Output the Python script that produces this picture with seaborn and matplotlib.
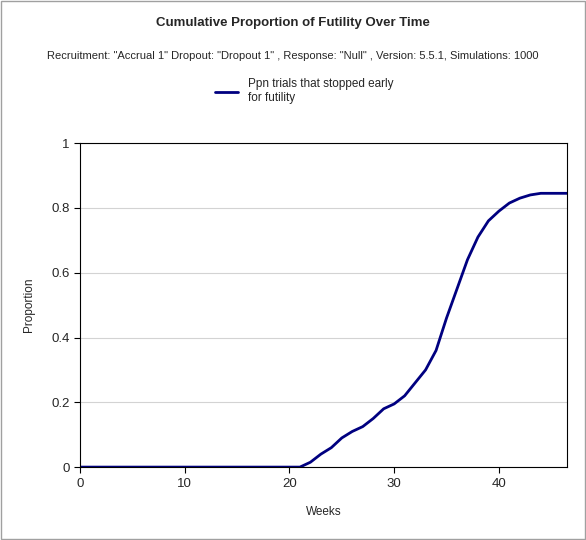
import numpy as np
import pandas as pd
import seaborn as sns
import matplotlib.pyplot as plt

weeks = [0, 5, 10, 15, 19, 21, 22, 23, 24, 25, 26, 27, 28, 29, 30, 31, 32, 33, 34, 35,
         36, 37, 38, 39, 40, 41, 42, 43, 44, 45, 46.5]
proportion = [0, 0, 0, 0, 0, 0, 0.015, 0.04, 0.06, 0.09, 0.11, 0.125, 0.15, 0.18, 0.195,
              0.22, 0.26, 0.30, 0.36, 0.46, 0.55, 0.64, 0.71, 0.76, 0.79, 0.815, 0.83,
              0.84, 0.845, 0.845, 0.845]

df = pd.DataFrame({"Weeks": weeks, "Proportion": proportion})

sns.set_style("white")
plt.rcParams["font.family"] = ["Liberation Sans", "DejaVu Sans"]

fig = plt.figure(figsize=(5.86, 5.4), dpi=100)
ax = fig.add_axes([0.1365, 0.135, 0.831, 0.6])
sns.lineplot(data=df, x="Weeks", y="Proportion", color="#000080", linewidth=2,
             label="Ppn trials that stopped early\nfor futility", ax=ax)

ax.set_xlim(0, 46.5)
ax.set_ylim(0, 1)
ax.set_xticks([0, 10, 20, 30, 40])
ax.set_yticks([0, 0.2, 0.4, 0.6, 0.8, 1])
ax.set_yticklabels(["0", "0.2", "0.4", "0.6", "0.8", "1"])
ax.tick_params(labelsize=9.5, length=4, color="black", direction="out", left=True, bottom=True)
ax.yaxis.grid(True, color="#d3d3d3", linewidth=0.8)
for s in ax.spines.values():
    s.set_color("black")
    s.set_linewidth(0.8)
ax.set_xlabel("Weeks", fontsize=8.5, labelpad=12)
ax.set_ylabel("Proportion", fontsize=8.5, labelpad=12)

ax.legend(loc="center", bbox_to_anchor=(0.46, 1.16), frameon=False, fontsize=8.5,
          handlelength=2, labelspacing=0)

fig.text(0.5, 0.952, "Cumulative Proportion of Futility Over Time", ha="center",
         fontsize=9.5, fontweight="bold")
fig.text(0.5, 0.89, 'Recruitment: "Accrual 1" Dropout: "Dropout 1" , Response: "Null" , Version: 5.5.1, Simulations: 1000',
         ha="center", fontsize=8)
fig.add_artist(plt.Rectangle((0.001, 0.001), 0.997, 0.997, transform=fig.transFigure,
                             fill=False, edgecolor="#a0a0a0", linewidth=1))

fig.savefig("out.png", dpi=100)
